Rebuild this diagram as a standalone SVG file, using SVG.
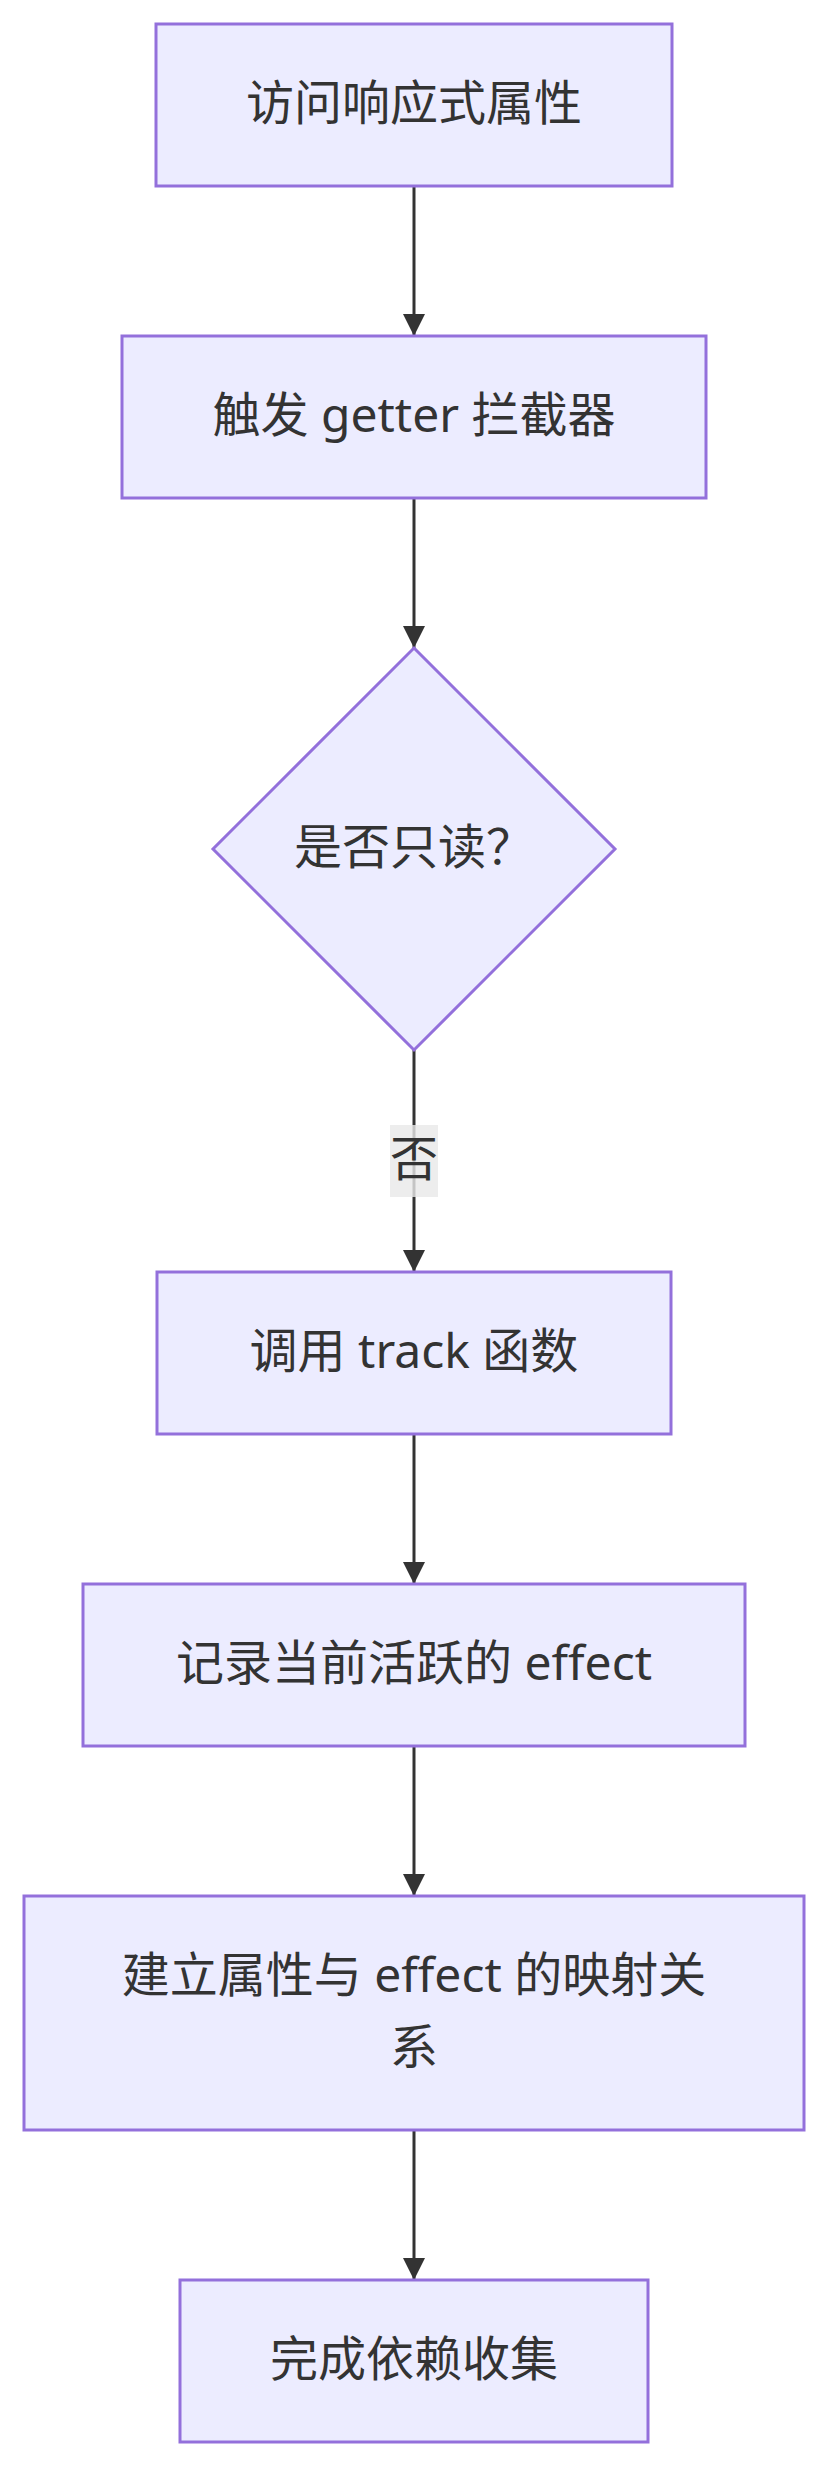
<svg xmlns="http://www.w3.org/2000/svg" width="828" height="2466" viewBox="0 0 828 2466">
<style>
.node rect, .node polygon { fill: #ECECFF; stroke: #9370DB; stroke-width: 3; }
.label { font-family: "Noto Sans", "Noto Sans CJK SC", sans-serif; font-size: 48px; fill: #333333; text-anchor: middle; }
.edge { stroke: #333333; stroke-width: 3; fill: none; }
.edgeLabelBg { fill: rgba(232,232,232,0.8); }
</style>
<defs>
<marker id="arrow" viewBox="0 0 10 10" refX="10" refY="5" markerUnits="userSpaceOnUse" markerWidth="22" markerHeight="24" orient="auto">
<path d="M0,0 L10,5 L0,10 z" fill="#333333"/>
</marker>
</defs>
<rect width="828" height="2466" fill="#ffffff"/>
<g id="connectors">
<path class="edge" d="M414,186 L414,336" marker-end="url(#arrow)"/>
<path class="edge" d="M414,498 L414,648" marker-end="url(#arrow)"/>
<path class="edge" d="M414,1050 L414,1272" marker-end="url(#arrow)"/>
<path class="edge" d="M414,1434 L414,1584" marker-end="url(#arrow)"/>
<path class="edge" d="M414,1746 L414,1896" marker-end="url(#arrow)"/>
<path class="edge" d="M414,2130 L414,2280" marker-end="url(#arrow)"/>
<g id="edge-label-no">
<rect class="edgeLabelBg" x="390" y="1125" width="48" height="72"/>
<text class="label" x="414" y="1176">否</text>
</g>
</g>
<g id="n1" class="node">
<rect x="156" y="24" width="516" height="162"/>
<text class="label" x="414" y="120">访问响应式属性</text>
</g>
<g id="n2" class="node">
<rect x="122" y="336" width="584" height="162"/>
<text class="label" x="414" y="432">触发 getter 拦截器</text>
</g>
<g id="n3" class="node">
<polygon points="414,648 615,849 414,1050 213,849"/>
<text class="label" x="414" y="864">是否只读？</text>
</g>
<g id="n4" class="node">
<rect x="157" y="1272" width="514" height="162"/>
<text class="label" x="414" y="1368">调用 track 函数</text>
</g>
<g id="n5" class="node">
<rect x="83" y="1584" width="662" height="162"/>
<text class="label" x="414" y="1680">记录当前活跃的 effect</text>
</g>
<g id="n6" class="node">
<rect x="24" y="1896" width="780" height="234"/>
<text class="label" x="414" y="1992">建立属性与 effect 的映射关</text>
<text class="label" x="414" y="2064">系</text>
</g>
<g id="n7" class="node">
<rect x="180" y="2280" width="468" height="162"/>
<text class="label" x="414" y="2376">完成依赖收集</text>
</g>
</svg>
